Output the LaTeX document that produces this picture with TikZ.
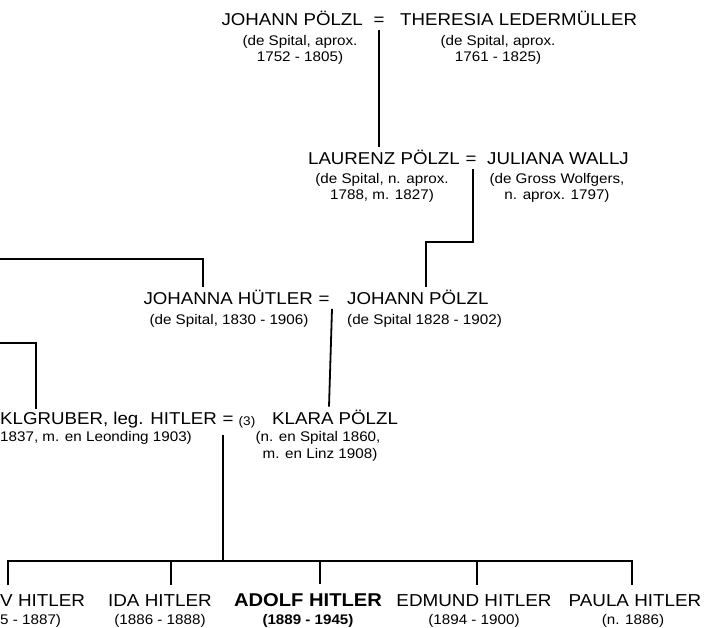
\documentclass[tikz,border=0pt]{standalone}
\usepackage{fontspec}
\setmainfont[FakeStretch=1.09]{Liberation Sans}
\begin{document}
\begin{tikzpicture}[x=1pt,y=-1pt,
  mainname/.style={inner sep=0pt, outer ysep=4pt, font=\fontsize{17.15}{18}\selectfont},
  subtext/.style={inner sep=0pt, font=\fontsize{13.95}{16}\selectfont},
  childname/.style={inner sep=0pt, outer ysep=9pt, font=\fontsize{17.3}{18}\selectfont},
  boldname/.style={inner sep=0pt, outer ysep=9pt, font=\fontsize{18.5}{19}\selectfont\bfseries},
  boldsub/.style={inner sep=0pt, font=\fontsize{13.9}{16}\selectfont\bfseries},
  numtext/.style={inner sep=0pt, font=\fontsize{12.5}{13}\selectfont},
  link/.style={line width=1.8pt},
]
\useasboundingbox (0,0) rectangle (705,628);
% Row 1
\node[mainname, anchor=base east] (jp1) at (363,26) {JOHANN PÖLZL};
\node[mainname, anchor=base] (eq1) at (379,26) {=};
\node[mainname, anchor=base west] (tl) at (400,26) {THERESIA LEDERMÜLLER};
\node[subtext, anchor=base] (jp1a) at (300,46) {(de Spital, aprox.};
\node[subtext, anchor=base] (jp1b) at (300,62) {1752 - 1805)};
\node[subtext, anchor=base] (tla) at (498,46) {(de Spital, aprox.};
\node[subtext, anchor=base] (tlb) at (498,62) {1761 - 1825)};
% Row 2
\node[mainname, anchor=base east] (laurenz) at (460,165) {LAURENZ PÖLZL};
\node[mainname, anchor=base] (eq2) at (471,165) {=};
\node[mainname, anchor=base west] (juliana) at (487,165) {JULIANA WALLJ};
\node[subtext, anchor=base] (laua) at (382,184) {(de Spital, n. aprox.};
\node[subtext, anchor=base] (laub) at (382,200) {1788, m. 1827)};
\node[subtext, anchor=base] (jula) at (557,184) {(de Gross Wolfgers,};
\node[subtext, anchor=base] (julb) at (557,200) {n. aprox. 1797)};
% Row 3
\node[mainname, anchor=base east] (johanna) at (313,305) {JOHANNA HÜTLER};
\node[mainname, anchor=base] (eq3) at (324,305) {=};
\node[mainname, anchor=base west] (johann) at (347,305) {JOHANN PÖLZL};
\node[subtext, anchor=base] (johannas) at (229,325) {(de Spital, 1830 - 1906)};
\node[subtext, anchor=base west] (johanns) at (347,325) {(de Spital 1828 - 1902)};
% Row 4
\node[mainname, anchor=base west] (alois) at (0,425) {KLGRUBER, leg. HITLER};
\node[mainname, anchor=base] (eq4) at (228,425) {=};
\node[numtext, anchor=base] (num3) at (247,426) {(3)};
\node[mainname, anchor=base west] (klara) at (272,425) {KLARA PÖLZL};
\node[subtext, anchor=base west] (aloiss) at (0,442) {1837, m. en Leonding 1903)};
\node[subtext, anchor=base] (klaraa) at (318,442) {(n. en Spital 1860,};
\node[subtext, anchor=base] (klarab) at (320,459) {m. en Linz 1908)};
% Row 5
\node[childname, anchor=base west] (gustav) at (0,606) {V HITLER};
\node[subtext, anchor=base west] (gustavs) at (0,624) {5 - 1887)};
\node[childname, anchor=base] (ida) at (160,606) {IDA HITLER};
\node[subtext, anchor=base] (idas) at (160,624) {(1886 - 1888)};
\node[boldname, anchor=base] (adolf) at (308,606) {ADOLF HITLER};
\node[boldsub, anchor=base] (adolfs) at (308,624) {(1889 - 1945)};
\node[childname, anchor=base] (edmund) at (474,606) {EDMUND HITLER};
\node[subtext, anchor=base] (edmunds) at (474,624) {(1894 - 1900)};
\node[childname, anchor=base] (paula) at (635,606) {PAULA HITLER};
\node[subtext, anchor=base] (paulas) at (633,624) {(n. 1886)};
% Connectors
\draw[link] (eq1.south) -- (eq1.south |- laurenz.north);
\coordinate (c2) at (426,242);
\draw[link] ([xshift=2pt]eq2.south) |- (c2) -- (c2 |- johann.north);
\coordinate (jl) at (0,259);
\coordinate (jt) at (203,0);
\draw[link] (jl) -| (jt |- johanna.north);
\coordinate (k1) at (332,0);
\coordinate (k2) at (329,0);
\draw[link] (k1 |- eq3.south) -- (k2 |- klara.north);
\coordinate (al) at (0,343);
\coordinate (ax) at (36,0);
\draw[link] (al) -| (ax |- alois.north);
\coordinate (bar) at (223,561);
\draw[link] ([yshift=-6pt]eq4.south -| bar) -- (bar);
\coordinate (d1) at (8,561);
\coordinate (d2) at (171,561);
\coordinate (d3) at (320,561);
\coordinate (d4) at (477,561);
\coordinate (d5) at (632,561);
\draw[link] (d1 |- gustav.north) -- (d1) -- (d5) -- (d5 |- paula.north);
\draw[link] (d2) -- (d2 |- ida.north);
\draw[link] (d3) -- (d3 |- adolf.north);
\draw[link] (d4) -- (d4 |- edmund.north);
\end{tikzpicture}
\end{document}
